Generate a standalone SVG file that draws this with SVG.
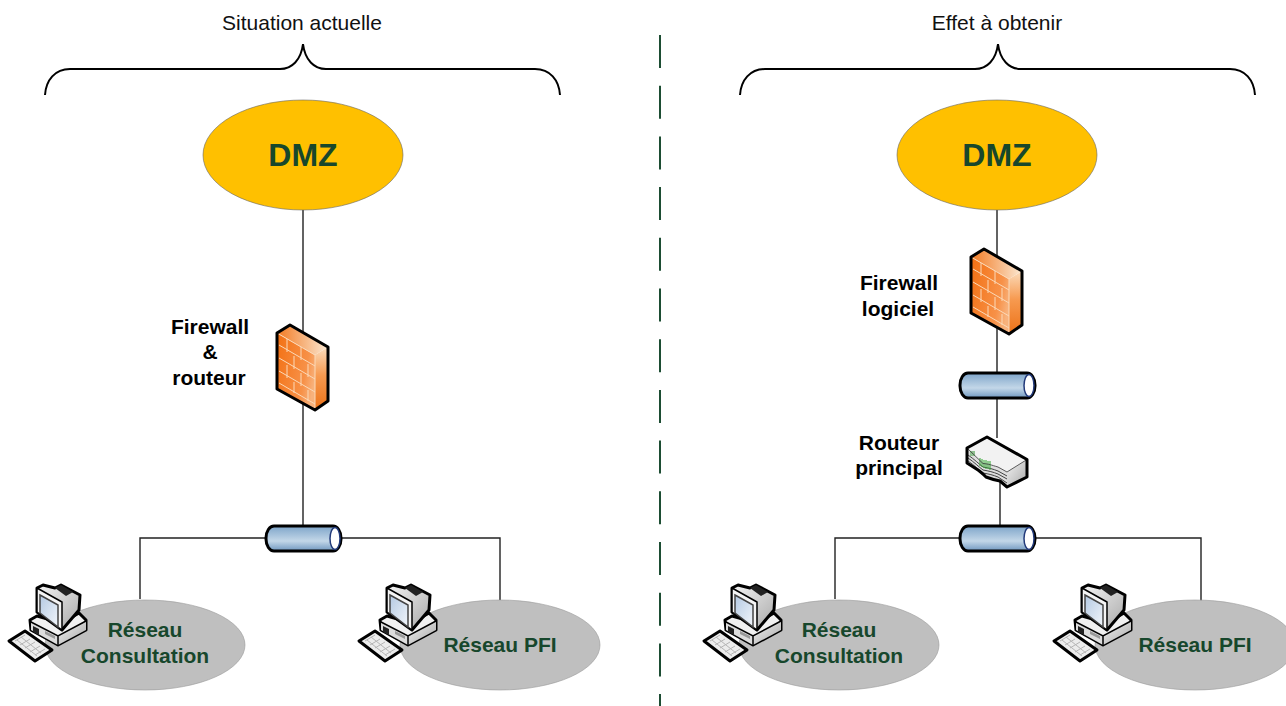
<svg xmlns="http://www.w3.org/2000/svg" width="1286" height="706" viewBox="0 0 1286 706">
<style>
text{font-family:"Liberation Sans",Arial,sans-serif;text-anchor:middle}
.title{font-size:21px;fill:#111}
.dmz{font-size:32px;font-weight:bold;fill:#17472c}
.net{font-size:21px;font-weight:bold;fill:#17472c}
.lab{font-size:21px;font-weight:bold;fill:#000}
.line{fill:none;stroke:#222;stroke-width:1.4}
.brace{fill:none;stroke:#000;stroke-width:2}
.dz{fill:#ffc000;stroke:#666;stroke-width:.6}
.gr{fill:#bfbfbf;stroke:#999;stroke-width:.6}
.ol{stroke:#000;stroke-width:3;stroke-linejoin:round}
.brick{fill:none;stroke:#fbd9b8;stroke-width:1}
</style>
<defs>
<linearGradient id="fwF" x1="0" y1="0.2" x2="1" y2="0.6"><stop offset="0" stop-color="#f37216"/><stop offset=".75" stop-color="#f79148"/><stop offset="1" stop-color="#f8b27c"/></linearGradient>
<linearGradient id="fwT" x1="0" y1="0" x2="1" y2="0"><stop offset="0" stop-color="#f27a22"/><stop offset="1" stop-color="#fbe8d2"/></linearGradient>
<linearGradient id="fwS" x1="0" y1="0" x2="0" y2="1"><stop offset="0" stop-color="#fbdcbc"/><stop offset=".45" stop-color="#f79a50"/><stop offset="1" stop-color="#ec7218"/></linearGradient>
<linearGradient id="cyl" x1="0" y1="0" x2="0" y2="1"><stop offset="0" stop-color="#7da4c9"/><stop offset=".6" stop-color="#c3d7e8"/><stop offset="1" stop-color="#6f97bf"/></linearGradient>
<linearGradient id="scr" x1="0" y1="0" x2="1" y2="1"><stop offset="0" stop-color="#b4c9e2"/><stop offset="1" stop-color="#f2f6fb"/></linearGradient>
<linearGradient id="gryS" x1="0" y1="0" x2="1" y2="1"><stop offset="0" stop-color="#f4f4f4"/><stop offset="1" stop-color="#a8a8a8"/></linearGradient>
<symbol id="firewall" overflow="visible">
<path d="M0 8L38 30V85L0 64Z" fill="url(#fwF)"/>
<path d="M38 30L51 22V76L38 85Z" fill="url(#fwS)"/>
<path d="M13 0L51 22L38 30L0 8Z" fill="url(#fwT)"/>
<path class="brick" d="M0 8L38 30V85"/>
<path class="brick" d="M2 20L38 41M2 33L38 54M2 46L38 67M2 58L38 79M10 14V27M24 22V35M10 40V53M24 48V61M17 31V44M31 39V52M17 57V68M31 65V76"/>
<path class="ol" d="M0 8L13 0L51 22V76L38 85L0 64Z" fill="none"/>
</symbol>
<symbol id="cylinder" overflow="visible">
<rect class="ol" x="1" y="1" width="75" height="25" rx="8" ry="12" fill="url(#cyl)"/>
<ellipse cx="70" cy="13.5" rx="5" ry="11" fill="#fff" stroke="#223a7a" stroke-width="1.5"/>
</symbol>
<symbol id="router" overflow="visible">
<path d="M0 11L20 0L60 22.5L40 35L31 30C24 28 22 27 16 26.5Z" fill="#f2f2f2"/>
<path d="M40 35L60 22.5V40L40 50Z" fill="url(#gryS)"/>
<path d="M0 11L16 26.5C22 27 24 28 31 30L40 35V50L33 44C28 43 24 42 19 40C16 37 14 35 11 33L0 26Z" fill="#dedede"/>
<path d="M1 18C7 22 12 27 16 30C22 31 26 32 31 34L40 39M1 21C7 25 12 30 16 33C22 34 26 35 31 37L40 42M1 24C7 28 12 33 16 36C22 37 26 38 31 40L40 46" fill="none" stroke="#444" stroke-width="1"/>
<path d="M13 21V29M15 22V30M17 23V31M19 23V32M21 24V32M23 24V33" stroke="#2fa52f" stroke-width="1"/>
<rect x="3" y="14" width="5" height="5" fill="#8fc08f"/>
<path d="M0 11L16 26.5C22 27 24 28 31 30L40 35M40 35L60 22.5" fill="none" stroke="#333" stroke-width=".8"/>
<path class="ol" d="M0 11L20 0L60 22.5V40L40 50L33 44C28 43 24 42 19 40C16 37 14 35 11 33L0 26Z" fill="none"/>
</symbol>
<symbol id="computer" overflow="visible">
<path class="ol" d="M21 35L28 31L53 38L70 28L77 35V45L49 60L22 45Z" fill="#f1f1f1"/>
<path d="M22 37L49 51V60L22 45Z" fill="#dcdcdc"/>
<path d="M49 51L77 36V45L49 60Z" fill="url(#gryS)"/>
<path d="M22 37L49 51L77 36M49 51V60" fill="none" stroke="#000" stroke-width="1.5"/>
<path d="M24 41L30 44V50L24 47Z" fill="#222"/>
<path d="M36 46L46 51V54L36 49Z" fill="#999"/>
<path class="ol" d="M28 3L34 0L46 3L52 0L71 10L70 25L53 45L28 27Z" fill="url(#gryS)"/>
<path d="M28 3L53 17V45L28 27Z" fill="#f4f4f4" stroke="#000" stroke-width="1.5" stroke-linejoin="round"/>
<path d="M31 10L49 20V42L31 28Z" fill="url(#scr)" stroke="#444" stroke-width="1.5"/>
<path d="M46 3L52 0L64 7L57 11Z" fill="#222"/>
<path class="ol" d="M0 56L16 46L43 65L26 76Z" fill="#ececec"/>
<path d="M6 56L16 50M11 60L21 54M16 63L26 57M21 67L31 61M26 70L36 64M12 52L32 68M8 55L28 71" stroke="#b5b5b5" stroke-width="1"/>
</symbol>
</defs>
<g id="connectors">
<path class="line" d="M303 205V525M140 599V538H265M341 538H500V602"/>
<path class="line" d="M997 205V438M1000 480V526M835 599V538H960M1036 538H1201V602"/>
<path d="M660 35V706" fill="none" stroke="#1d4d33" stroke-width="2" stroke-dasharray="33 17.7"/>
<path class="brace" d="M45 95C46 80 55 69 70 69H280C292 69 301 60 303 44C305 60 314 69 326 69H535C550 69 559 80 560 95"/>
<path class="brace" d="M740 95C741 80 750 69 765 69H975C987 69 996 60 998 44C1000 60 1009 69 1021 69H1230C1245 69 1254 80 1255 95"/>
</g>
<text class="title" x="302" y="30">Situation actuelle</text>
<text class="title" x="997" y="30">Effet à obtenir</text>
<g id="dmz-left"><ellipse class="dz" cx="303" cy="155" rx="100" ry="55"/><text class="dmz" x="303" y="166">DMZ</text></g>
<g id="dmz-right"><ellipse class="dz" cx="997" cy="155" rx="100" ry="55"/><text class="dmz" x="997" y="166">DMZ</text></g>
<g id="firewall-left"><use href="#firewall" x="277" y="325"/><text class="lab" x="210" y="334">Firewall</text><text class="lab" x="210" y="359">&amp;</text><text class="lab" x="209" y="385">routeur</text></g>
<g id="firewall-right"><use href="#firewall" x="971" y="249"/><text class="lab" x="899" y="290">Firewall</text><text class="lab" x="898" y="316">logiciel</text></g>
<g id="bus-right-top"><use href="#cylinder" x="959" y="372"/></g>
<g id="router-right"><use href="#router" x="967" y="437"/><text class="lab" x="899" y="450">Routeur</text><text class="lab" x="899" y="475">principal</text></g>
<g id="bus-left"><use href="#cylinder" x="265" y="525"/></g>
<g id="bus-right"><use href="#cylinder" x="959" y="525"/></g>
<g id="net-consult-left"><ellipse class="gr" cx="145" cy="645" rx="100" ry="45"/><use href="#computer" x="9" y="585"/><text class="net" x="145" y="637">Réseau</text><text class="net" x="145" y="663">Consultation</text></g>
<g id="net-pfi-left"><ellipse class="gr" cx="500" cy="645" rx="100" ry="45"/><use href="#computer" x="359" y="585"/><text class="net" x="500" y="652">Réseau PFI</text></g>
<g id="net-consult-right"><ellipse class="gr" cx="839" cy="645" rx="100" ry="45"/><use href="#computer" x="704" y="585"/><text class="net" x="839" y="637">Réseau</text><text class="net" x="839" y="663">Consultation</text></g>
<g id="net-pfi-right"><ellipse class="gr" cx="1195" cy="645" rx="100" ry="45"/><use href="#computer" x="1054" y="585"/><text class="net" x="1195" y="652">Réseau PFI</text></g>
</svg>
